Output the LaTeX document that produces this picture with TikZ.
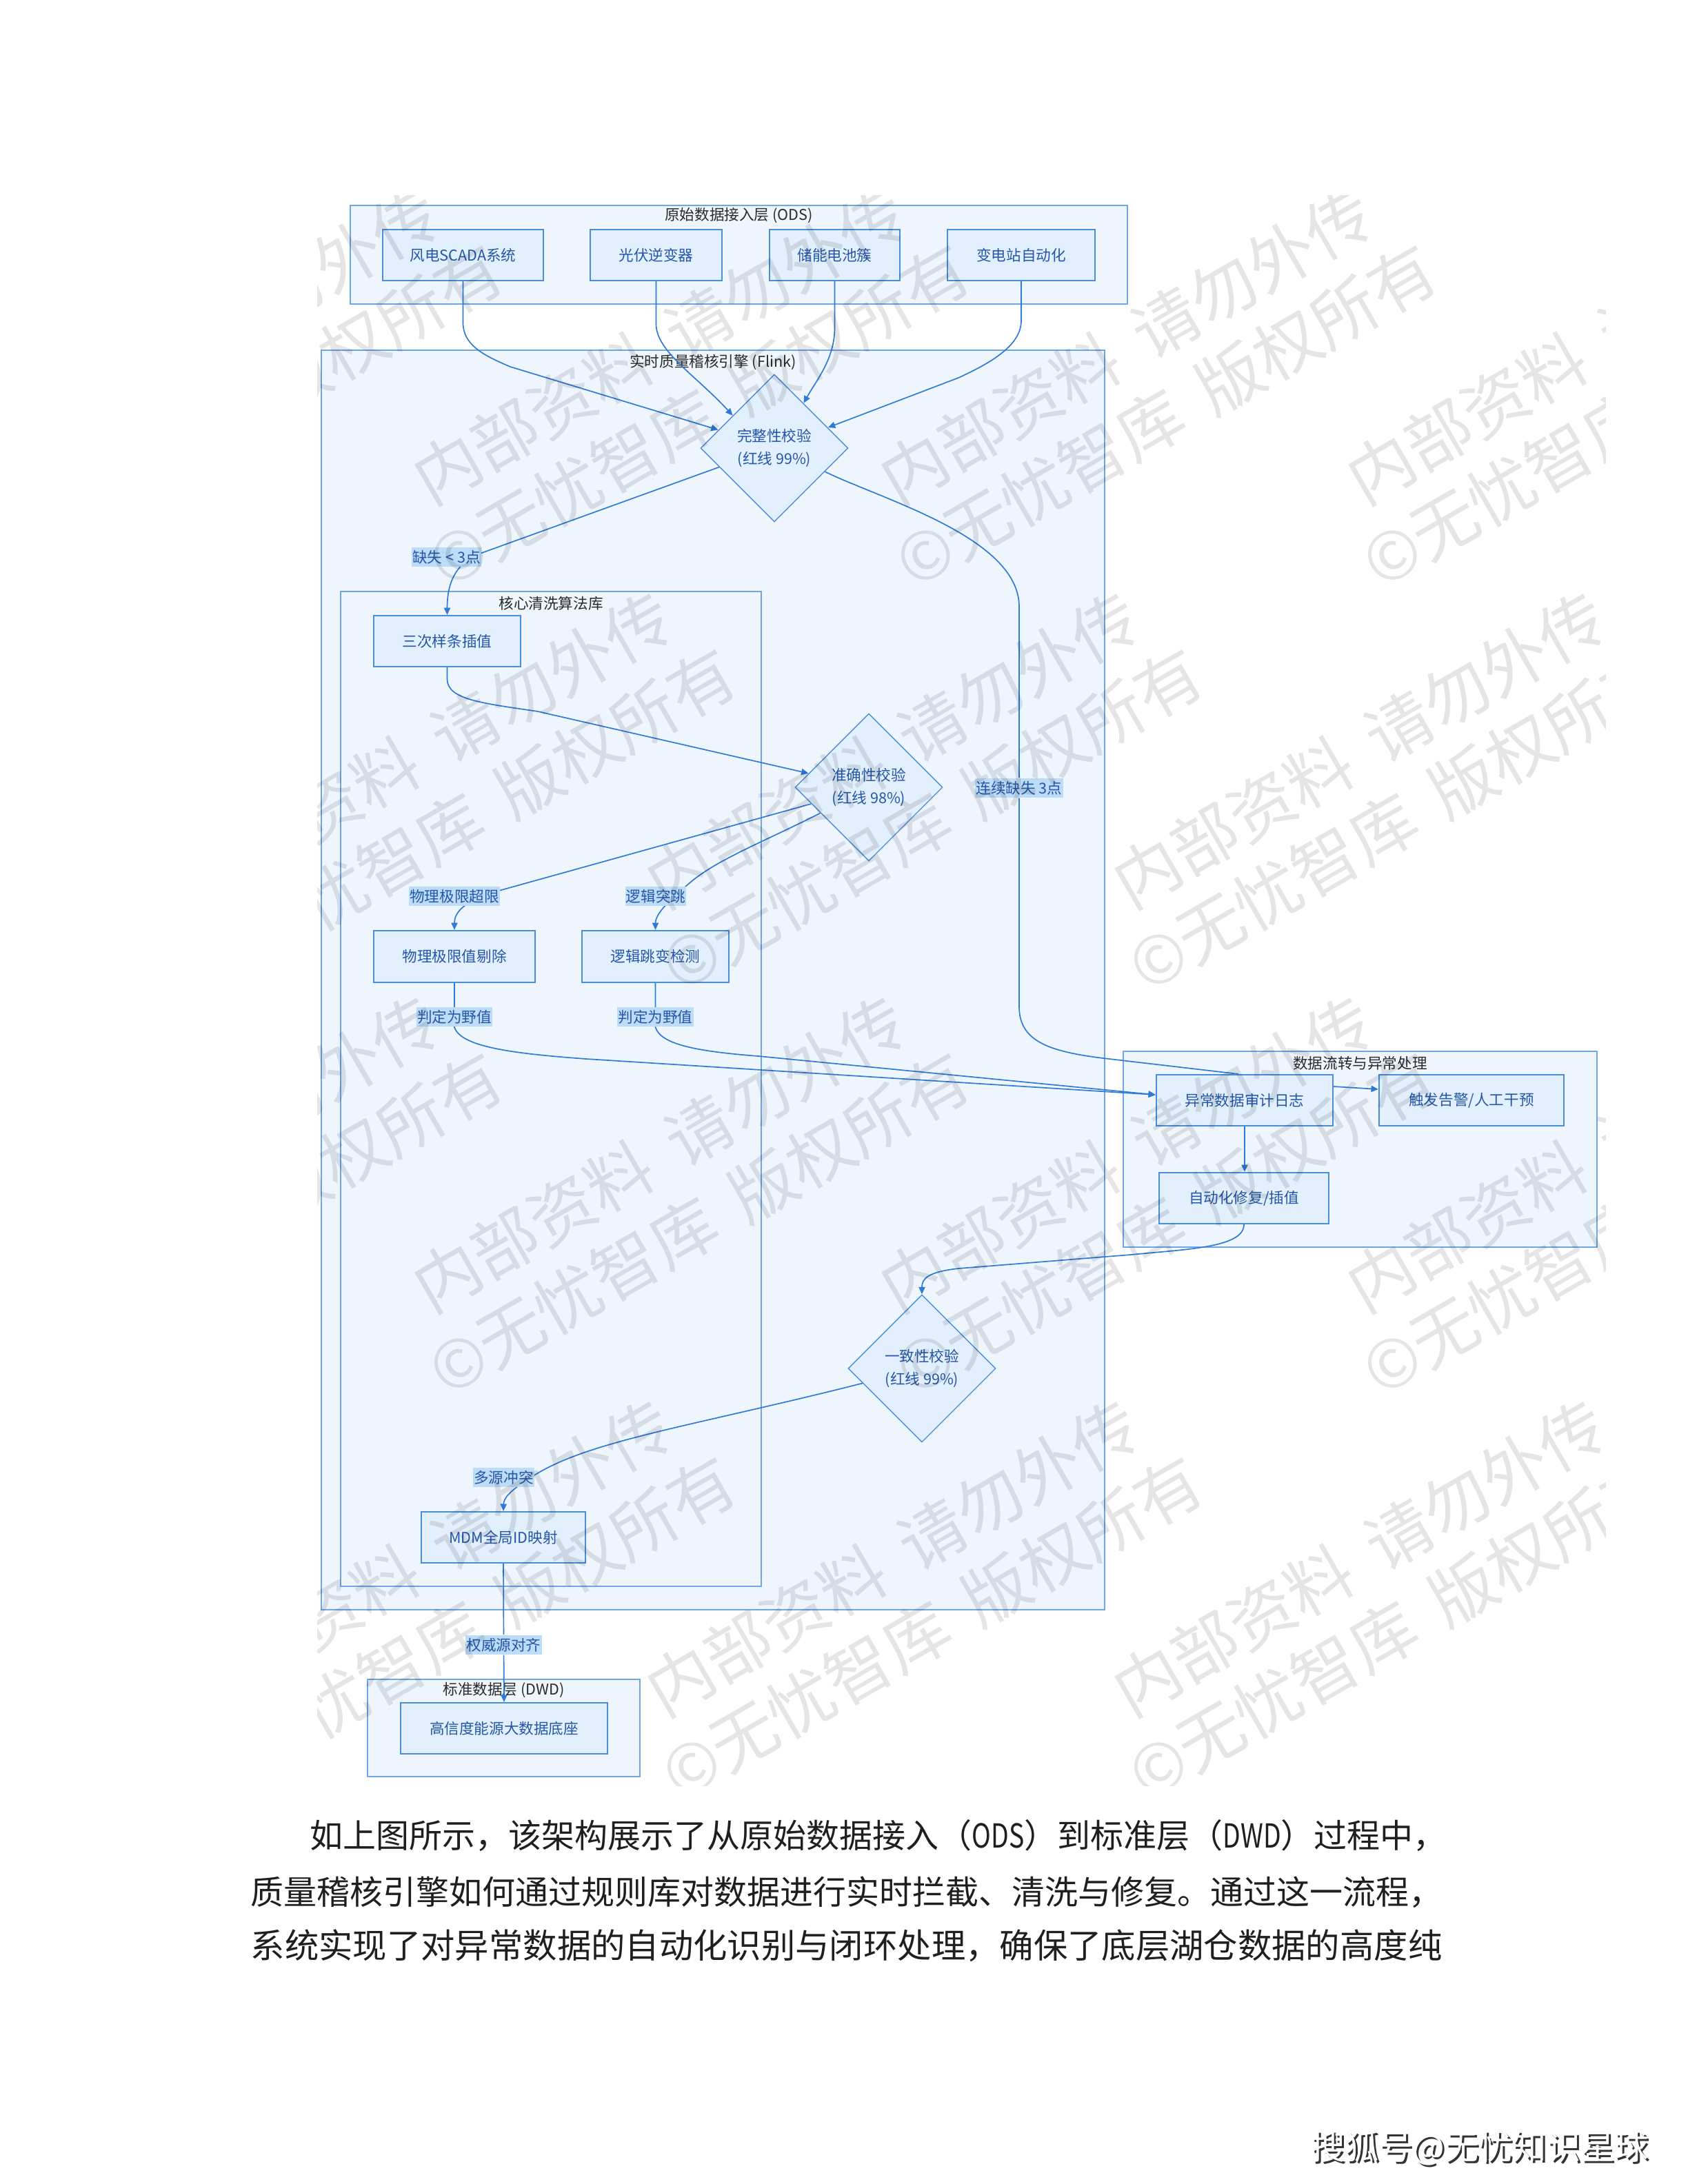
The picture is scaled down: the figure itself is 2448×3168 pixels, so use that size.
\documentclass[tikz,border=0pt]{standalone}
\usepackage{graphicx}
\usepackage{fontspec}
\setmainfont{Noto Sans CJK SC}
\usetikzlibrary{shapes.geometric,arrows.meta,calc}
\XeTeXlinebreaklocale "zh"
\XeTeXlinebreakskip = 0pt plus 1pt
\definecolor{clfill}{HTML}{EEF5FD}
\definecolor{cldraw}{HTML}{6FA6E6}
\definecolor{nfill}{HTML}{E2EFFC}
\definecolor{ndraw}{HTML}{4A8EDA}
\definecolor{ntext}{HTML}{2556A8}
\definecolor{edgec}{HTML}{2F7AD6}
\definecolor{lfill}{HTML}{BDDCF7}
\definecolor{ttext}{HTML}{2B2B2B}
\pgfdeclarelayer{back}
\pgfdeclarelayer{edgelayer}
\pgfdeclarelayer{front}
\pgfsetlayers{back,edgelayer,main,front}
\newcommand\nf{\fontsize{5.4}{8.2}\selectfont}
\newcommand\pf{\fontsize{12}{14}\selectfont}
\newcommand\pfw{\fontsize{12.34}{14}\selectfont}
\newcommand\wmf{\fontsize{24}{29}\selectfont}
\newcommand\shf{\fontsize{12.3}{14}\selectfont}
\newcommand\narrowlat[1]{\scalebox{0.78}[1]{#1}}
% #1 style, #2 name, #3 x1, #4 y1, #5 x2, #6 y2, #7 text
\newcommand\mkbox[7]{\node[#1, minimum width={(#5-#3)*0.25pt}, minimum height={(#6-#4)*0.25pt}] (#2) at ({(#3+#5)/2},{(#4+#6)/2}) {#7};}
\tikzset{
  cluster/.style={draw=cldraw, fill=clfill, line width=0.5pt, inner sep=0pt},
  ctitle/.style={text=ttext, font=\nf, inner sep=0pt},
  nbox/.style={draw=ndraw, fill=nfill, line width=0.55pt, inner sep=0pt, text=ntext, font=\nf},
  ddia/.style={diamond, aspect=1, draw=ndraw, fill=nfill, line width=0.35pt, inner sep=0pt,
    minimum width=53.5pt, minimum height=53.5pt, text=ntext, font=\nf, align=center},
  elabel/.style={fill=lfill, text=ntext, font=\nf, inner xsep=0.3pt, inner ysep=1pt},
  conn/.style={draw=edgec, line width=0.42pt, -{Triangle[length=2.6pt,width=2.3pt]}},
  connplain/.style={draw=edgec, line width=0.42pt},
  wmark/.style={rotate=30, text=black, text opacity=0.1, font=\wmf, align=center, inner sep=0pt},
  para/.style={anchor=west, inner sep=0pt, font=\pf, text=black!88}
}
\begin{document}
\begin{tikzpicture}[x=0.25pt, y=-0.25pt]
\useasboundingbox (0,0) rectangle (2448,3168);

\begin{pgfonlayer}{back}
\fill[white] (0,0) rectangle (2448,3168);
\mkbox{cluster}{cODS}{508}{298}{1635}{441}{}
\mkbox{cluster}{cFlink}{466}{508}{1602}{2335}{}
\mkbox{cluster}{cCore}{494}{858}{1104}{2301}{}
\mkbox{cluster}{cFlow}{1629}{1525}{2316}{1809}{}
\mkbox{cluster}{cDWD}{533}{2436}{928}{2577}{}
\node[ctitle] (tODS) at (1071.5,313) {原始数据接入层 (ODS)};
\node[ctitle] (tFlink) at (1034,525) {实时质量稽核引擎 (Flink)};
\node[ctitle] (tCore) at (799,875) {核心清洗算法库};
\node[ctitle] (tFlow) at (1972.5,1542) {数据流转与异常处理};
\node[ctitle] (tDWD) at (730.5,2452) {标准数据层 (DWD)};
\end{pgfonlayer}

% nodes
\mkbox{nbox}{wind}{555}{333}{788}{407}{风电SCADA系统}
\mkbox{nbox}{pv}{856}{333}{1047}{407}{光伏逆变器}
\mkbox{nbox}{bat}{1116}{333}{1305}{407}{储能电池簇}
\mkbox{nbox}{sub}{1374}{333}{1588}{407}{变电站自动化}
\node[ddia] (d1) at (1123,650) {完整性校验\\(红线 99\%)};
\mkbox{nbox}{spline}{542}{893}{755}{967}{三次样条插值}
\node[ddia] (d2) at (1260,1142) {准确性校验\\(红线 98\%)};
\mkbox{nbox}{phys}{542}{1350}{776}{1425}{物理极限值剔除}
\mkbox{nbox}{logic}{844}{1350}{1057}{1425}{逻辑跳变检测}
\mkbox{nbox}{audit}{1677}{1559}{1933}{1633}{异常数据审计日志}
\mkbox{nbox}{alarm}{2000}{1559}{2268}{1633}{触发告警/人工干预}
\mkbox{nbox}{repair}{1681}{1701}{1927}{1775}{自动化修复/插值}
\node[ddia] (d3) at (1337,1985) {一致性校验\\(红线 99\%)};
\mkbox{nbox}{mdm}{611}{2193}{849}{2267}{MDM全局ID映射}
\mkbox{nbox}{dwdn}{581}{2470}{881}{2544}{高信度能源大数据底座}

% edge labels
\node[elabel] (L1) at (647.5,808) {缺失 < 3点};
\node[elabel] (L2) at (1478,1143) {连续缺失 3点};
\node[elabel] (L3) at (659,1300) {物理极限超限};
\node[elabel] (L4) at (951,1300) {逻辑突跳};
\node[elabel] (L5) at (659,1475) {判定为野值};
\node[elabel] (L6) at (950.5,1475) {判定为野值};
\node[elabel] (L7) at (730.5,2143) {多源冲突};
\node[elabel] (L8) at (730.5,2386) {权威源对齐};

\begin{pgfonlayer}{edgelayer}
\draw[conn] (wind.south) -- (671.5,468) .. controls (671.5,500) and (700,515) .. (740,532) -- (d1.162);
\draw[conn] (pv.south) -- (951.5,470) .. controls (951.5,510) and (1010,545) .. (d1.142);
\draw[conn] (bat.south) -- (1210.5,475) .. controls (1210.5,520) and (1185,550) .. (d1.57);
\draw[conn] (sub.south) -- (1481,465) .. controls (1481,500) and (1440,525) .. (1390,548) -- (d1.21);
\draw[conn] (d1.199) -- (696,803) .. controls (665,815) and (648.5,840) .. (spline.north);
\draw[conn] (spline.south) -- (648.5,985) .. controls (648.5,1015) and (700,1020) .. (780,1032) -- (d2.167);
\draw[conn] (d2.196) -- (720,1293) .. controls (670,1308) and (659,1325) .. (phys.north);
\draw[conn] (d2.208) .. controls (1100,1225) and (1030,1250) .. (990,1290) .. controls (960,1315) and (950.5,1330) .. (logic.north);
\draw[conn] (phys.south) -- (659,1490) .. controls (668,1518) and (740,1528) .. (850,1536) -- ([yshift=2pt]audit.west);
\draw[conn] (logic.south) -- (950.5,1490) .. controls (958,1515) and (1010,1525) .. (1100,1532) -- ([yshift=2pt]audit.west);
\draw[connplain] (d1.-25) .. controls (1280,725) and (1478,780) .. (1478,880) -- (L2) -- (1478,1460) .. controls (1478,1510) and (1520,1525) .. (1600,1535) -- ([xshift=-2.25pt]audit.north);
\draw[conn] ([yshift=5pt]audit.east) -- ([yshift=4pt]alarm.west);
\draw[conn] (audit.south) -- (audit.south |- repair.north);
\draw[conn] (repair.south) .. controls (1804,1810) and (1720,1812) .. (1640,1820) -- (1390,1840) .. controls (1345,1845) and (1337,1855) .. (d3.north);
\draw[conn] (d3.194) .. controls (1000,2070) and (850,2090) .. (770,2143) .. controls (735,2165) and (730.5,2175) .. (mdm.north);
\draw[conn] (mdm.south) -- (L8) -- (dwdn.north);
\end{pgfonlayer}

% paragraph
\node[para] (p1) at (449,2662)
  {\makebox[410.5pt][s]{如上图所示，该架构展示了从原始数据接入（\narrowlat{ODS}）到标准层（\narrowlat{DWD}）过程中，}};
\node[para] (p2) at (363,2745)
  {\makebox[432pt][s]{质量稽核引擎如何通过规则库对数据进行实时拦截、清洗与修复。通过这一流程，}};
\node[para, font=\pfw] (p3) at (363,2822)
  {系统实现了对异常数据的自动化识别与闭环处理，确保了底层湖仓数据的高度纯};

% sohu mark
\node[font=\shf, text=black!80, inner sep=0pt] (sohushadow) at (2149,3119) {搜狐号@无忧知识星球};
\node[font=\shf, text=white, inner sep=0pt] (sohu) at (2146,3116) {搜狐号@无忧知识星球};

% watermarks
\begin{pgfonlayer}{front}
\begin{scope}
\clip (460,283) rectangle (2328,2590);
\foreach \cx/\cy [count=\i] in {308/552, 985/552, 1662/552, 2339/552,
    646/1138, 1323/1138, 2000/1138,
    308/1724, 985/1724, 1662/1724, 2339/1724,
    646/2310, 1323/2310, 2000/2310}
  \node[wmark] (wm\i) at (\cx,\cy) {内部资料\hspace{0.4em}请勿外传\\©无忧智库\hspace{0.4em}版权所有};
\end{scope}
\end{pgfonlayer}
\end{tikzpicture}
\end{document}
